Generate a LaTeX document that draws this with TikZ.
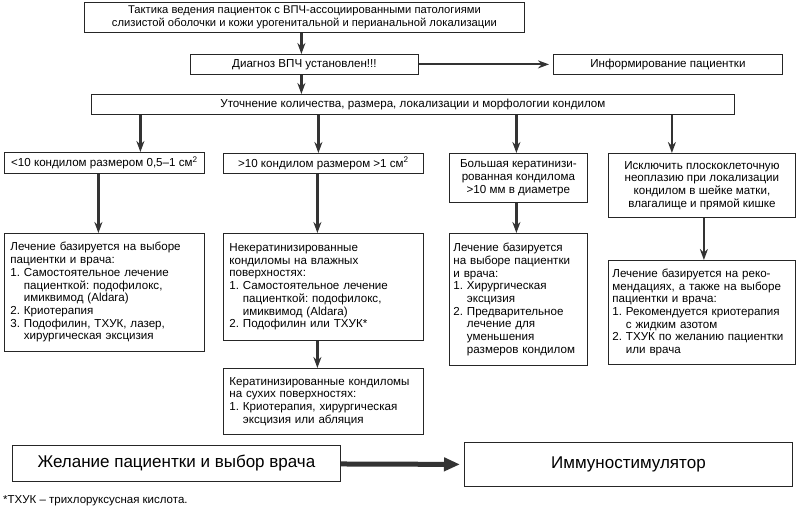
\documentclass[tikz,border=0pt]{standalone}
\usepackage{fontspec}
\setmainfont{Liberation Sans}
\usetikzlibrary{positioning,arrows.meta}
\frenchspacing

\begin{document}
\begin{tikzpicture}[x=1pt,y=-1pt,
  box/.style={draw=black!85,line width=0.8pt,anchor=north west,inner sep=0pt,
              font=\fontsize{11.6}{12.7}\selectfont,align=center},
  listbox/.style={box,align=left,inner xsep=6},
  bigbox/.style={box,font=\fontsize{17}{20}\selectfont},
  arr/.style={-{Stealth[length=11pt,width=8pt]},line width=2.2pt,draw=black!80},
  bigarr/.style={-{Triangle[length=16pt,width=13pt]},line width=5pt,draw=black!80},
  note/.style={font=\fontsize{11.5}{13}\selectfont,anchor=west,inner sep=0pt},
]
\useasboundingbox (0,0) rectangle (796,510);

% Top
\node[box,minimum width=440,minimum height=30,font=\fontsize{11.2}{12.7}\selectfont] (top) at (84,2)
  {Тактика ведения пациенток с ВПЧ-ассоциированными патологиями\\
   слизистой оболочки и кожи урогенитальной и перианальной локализации};

% Diagnosis
\node[box,minimum width=228,minimum height=20] (diag) at (190,54)
  {Диагноз ВПЧ установлен!!!};
\node[box,minimum width=229,minimum height=20] (info) at (553,54)
  {Информирование пациентки};

% Clarification
\node[box,minimum width=643,minimum height=20] (clar) at (91,94)
  {Уточнение количества, размера, локализации и морфологии кондилом};

% Branch 1
\node[box,minimum width=200,minimum height=21] (a) at (4,152)
  {<10 кондилом размером 0,5--1 см\textsuperscript{2}};
\node[listbox,text width=188,minimum width=200,minimum height=118] (a2) at (4,233)
  {Лечение базируется на выборе\\
   пациентки и врача:\\
   1. Самостоятельное лечение\\
   \phantom{1. }пациенткой: подофилокс,\\
   \phantom{1. }имиквимод (Aldara)\\
   2. Криотерапия\\
   3. Подофилин, ТХУК, лазер,\\
   \phantom{3. }хирургическая эксцизия};

% Branch 2
\node[box,minimum width=200,minimum height=20] (b) at (223,153)
  {>10 кондилом размером >1 см\textsuperscript{2}};
\node[listbox,text width=188,minimum width=200,minimum height=107] (b2) at (223,233)
  {Некератинизированные\\
   кондиломы на влажных\\
   поверхностях:\\
   1. Самостоятельное лечение\\
   \phantom{1. }пациенткой: подофилокс,\\
   \phantom{1. }имиквимод (Aldara)\\
   2. Подофилин или ТХУК*};
\node[listbox,text width=188,minimum width=200,minimum height=66] (b3) at (223,368)
  {Кератинизированные кондиломы\\
   на сухих поверхностях:\\
   1. Криотерапия, хирургическая\\
   \phantom{1. }эксцизия или абляция};

% Branch 3
\node[box,minimum width=138,minimum height=49] (c) at (449,153)
  {Большая кератинизи-\\рованная кондилома\\>10 мм в диаметре};
\node[listbox,text width=130,minimum width=138,minimum height=132,inner xsep=4] (c2) at (449,233)
  {Лечение базируется\\
   на выборе пациентки\\
   и врача:\\
   1. Хирургическая\\
   \phantom{1. }эксцизия\\
   2. Предварительное\\
   \phantom{2. }лечение для\\
   \phantom{2. }уменьшения\\
   \phantom{2. }размеров кондилом};

% Branch 4
\node[box,minimum width=187,minimum height=64] (d) at (608,153)
  {Исключить плоскоклеточную\\неоплазию при локализации\\кондилом в шейке матки,\\влагалище и прямой кишке};
\node[listbox,text width=179,minimum width=187,minimum height=104,inner xsep=4] (d2) at (608,260)
  {Лечение базируется на реко-\\
   мендациях, а также на выборе\\
   пациентки и врача:\\
   1. Рекомендуется криотерапия\\
   \phantom{1. }с жидким азотом\\
   2. ТХУК по желанию пациентки\\
   \phantom{2. }или врача\\[20pt]};

% Bottom
\node[bigbox,minimum width=328,minimum height=36] (wish) at (12,445)
  {Желание пациентки и выбор врача};
\node[bigbox,minimum width=328,minimum height=44] (immuno) at (464,442)
  {Иммуностимулятор};

% Footnote
\node[note] (fn) at (3,501) {*ТХУК -- трихлоруксусная кислота.};

% Arrows
\draw[arr] ([xshift=-3]top.south) -- ([xshift=-3]diag.north);
\draw[arr] ([xshift=-3]diag.south) -- ([xshift=-3]diag.south |- clar.north);
\draw[arr] (diag.east) -- ([xshift=-4]info.west);
\draw[arr] ([xshift=36]a.north |- clar.south) -- ([xshift=36]a.north);
\draw[arr] ([xshift=-5]b.north |- clar.south) -- ([xshift=-5]b.north);
\draw[arr] ([xshift=-2]c.north |- clar.south) -- ([xshift=-2]c.north);
\draw[arr] ([xshift=-30]d.north |- clar.south) -- ([xshift=-30]d.north);
\draw[arr] ([xshift=-6]a.south) -- ([xshift=-6]a2.north);
\draw[arr] ([xshift=-6]b.south) -- ([xshift=-6]b2.north);
\draw[arr] ([xshift=-6]b2.south) -- ([xshift=-6]b3.north);
\draw[arr] ([xshift=-2]c.south) -- ([xshift=-2]c2.north);
\draw[arr] ([xshift=2]d.south) -- ([xshift=2]d2.north);
\draw[bigarr] (wish) -- ([xshift=-4]immuno.west);

\end{tikzpicture}
\end{document}
